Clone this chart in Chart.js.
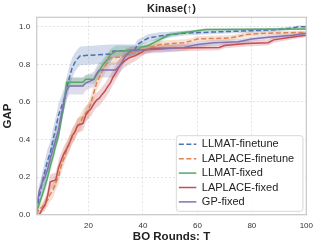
<!DOCTYPE html>
<html><head><meta charset="utf-8">
<script src="https://cdn.jsdelivr.net/npm/chart.js@4.4.1/dist/chart.umd.min.js"></script>
<style>html,body{margin:0;padding:0;background:#fff;overflow:hidden}#wrap{width:319px;height:248px;position:relative}</style>
</head><body><div id="wrap"><canvas id="c" width="319" height="248"></canvas></div>
<script>
const chartTitle = 'Kinase(\u2191)';
const xTitle = 'BO Rounds: T';
const yTitle = 'GAP';
const seriesNames = ['LLMAT-finetune','LAPLACE-finetune','LLMAT-fixed','LAPLACE-fixed','GP-fixed'];
const xTicks = [20,40,60,80,100];
const yTicks = [0,0.2,0.4,0.6,0.8,1.0];

// LLMAT-finetune
const llmatFtT = [1,2,3,4,5,6,7,8,9,10,11,12,13,14,15,16,17,28,29,37,38,40,42,46,50,55,68,83,90,95,97,100];
const llmatFtY = [0.02,0.10,0.17,0.23,0.29,0.33,0.40,0.46,0.53,0.57,0.61,0.67,0.73,0.78,0.81,0.83,0.845,0.855,0.87,0.875,0.905,0.925,0.94,0.95,0.958,0.965,0.973,0.98,0.985,0.993,1.0,1.0];
const llmatFtE = [0.02,0.04,0.05,0.06,0.06,0.06,0.06,0.06,0.06,0.06,0.06,0.06,0.06,0.055,0.05,0.05,0.05,0.05,0.035,0.03,0.025,0.02,0.02,0.02,0.015,0.012,0.01,0.01,0.01,0.008,0.006,0.006];
// LAPLACE-finetune
const laplaceFtT = [1,2,3,4,5,6,7,8,9,10,11,12,13,14,15,16,17,18,19,20,21,22,23,24,25,26,27,28,33,34,40,46,55,58,60,72,78,85,100];
const laplaceFtY = [0.0,0.03,0.04,0.06,0.078,0.11,0.13,0.17,0.2,0.26,0.3,0.345,0.38,0.41,0.44,0.47,0.49,0.52,0.54,0.555,0.60,0.65,0.70,0.73,0.76,0.79,0.81,0.835,0.84,0.86,0.875,0.905,0.915,0.925,0.935,0.94,0.958,0.965,0.97];
const laplaceFtE = [0.01,0.02,0.025,0.03,0.035,0.04,0.04,0.04,0.04,0.04,0.04,0.04,0.04,0.04,0.04,0.04,0.04,0.04,0.04,0.04,0.04,0.04,0.04,0.04,0.04,0.04,0.04,0.04,0.035,0.03,0.025,0.02,0.018,0.015,0.015,0.015,0.012,0.01,0.01];
// LLMAT-fixed
const llmatFxT = [1,2,3,4,5,6,7,8,9,10,11,12,18,19,22,23,24,25,26,27,28,29,30,38,39,42,44,46,48,50,54,58,63,100];
const llmatFxY = [0.02,0.06,0.105,0.15,0.2,0.26,0.31,0.37,0.42,0.50,0.58,0.705,0.705,0.72,0.72,0.745,0.765,0.79,0.81,0.825,0.85,0.86,0.87,0.875,0.89,0.9,0.915,0.93,0.945,0.958,0.967,0.975,0.985,0.988];
const llmatFxE = [0.015,0.02,0.025,0.03,0.03,0.03,0.03,0.03,0.03,0.03,0.03,0.025,0.025,0.025,0.025,0.03,0.03,0.03,0.03,0.03,0.03,0.03,0.03,0.025,0.02,0.02,0.015,0.015,0.012,0.01,0.01,0.008,0.006,0.006];
// LAPLACE-fixed
const laplaceFxT = [1,2,3,4,5,6,8,9,10,11,12,13,14,15,16,17,18,19,20,21,22,23,24,25,26,27,28,29,30,31,32,33,34,35,37,39,41,44,68,70,78,86,88,95,100];
const laplaceFxY = [0.0,0.0,0.03,0.05,0.10,0.175,0.185,0.25,0.29,0.325,0.35,0.38,0.42,0.44,0.475,0.48,0.487,0.53,0.55,0.565,0.59,0.61,0.62,0.64,0.656,0.68,0.70,0.73,0.755,0.78,0.80,0.815,0.825,0.835,0.845,0.86,0.878,0.885,0.89,0.9,0.91,0.915,0.93,0.945,0.955];
const laplaceFxE = [0.005,0.01,0.02,0.03,0.035,0.04,0.04,0.04,0.04,0.04,0.04,0.04,0.04,0.04,0.04,0.04,0.04,0.04,0.04,0.04,0.04,0.04,0.04,0.04,0.04,0.04,0.04,0.04,0.04,0.04,0.035,0.035,0.035,0.035,0.03,0.025,0.02,0.02,0.015,0.015,0.015,0.015,0.015,0.012,0.01];
// GP-fixed
const gpFxT = [1,2,3,4,5,6,7,8,9,10,11,12,13,18,19,22,23,24,30,31,32,33,34,35,36,46,55,60,66,75,80,87,95,100];
const gpFxY = [0.05,0.13,0.17,0.2,0.24,0.3,0.35,0.40,0.45,0.53,0.6,0.66,0.685,0.685,0.70,0.72,0.75,0.77,0.77,0.785,0.805,0.83,0.85,0.865,0.875,0.88,0.89,0.905,0.915,0.92,0.935,0.945,0.955,0.965];
const gpFxE = [0.03,0.04,0.04,0.04,0.04,0.045,0.045,0.045,0.045,0.045,0.045,0.045,0.045,0.045,0.04,0.04,0.04,0.04,0.04,0.035,0.035,0.03,0.03,0.025,0.02,0.02,0.018,0.015,0.015,0.015,0.012,0.012,0.01,0.01];

const FONT = "'Liberation Sans', Arial, Helvetica, sans-serif";
const series = [
  {name: seriesNames[0], T: llmatFtT, Y: llmatFtY, E: llmatFtE, rgb: [76,114,176], dash: [5,2.5]},
  {name: seriesNames[1], T: laplaceFtT, Y: laplaceFtY, E: laplaceFtE, rgb: [221,132,82], dash: [5,2.5]},
  {name: seriesNames[2], T: llmatFxT, Y: llmatFxY, E: llmatFxE, rgb: [85,168,104], dash: []},
  {name: seriesNames[3], T: laplaceFxT, Y: laplaceFxY, E: laplaceFxE, rgb: [196,78,82], dash: []},
  {name: seriesNames[4], T: gpFxT, Y: gpFxY, E: gpFxE, rgb: [129,114,179], dash: []}
];
const rgba = (c, a) => `rgba(${c[0]},${c[1]},${c[2]},${a})`;
const pts = (T, Y, E, s) => T.map((t, i) => ({x: t, y: Y[i] + s * (E ? E[i] : 0)}));

const datasets = [];
series.forEach(s => {
  datasets.push({data: pts(s.T, s.Y, s.E, 1), borderWidth: 0, borderColor: 'rgba(0,0,0,0)', backgroundColor: 'rgba(0,0,0,0)', pointRadius: 0, fill: false, order: 100});
  datasets.push({data: pts(s.T, s.Y, s.E, -1), borderWidth: 0, borderColor: 'rgba(0,0,0,0)', backgroundColor: rgba(s.rgb, 0.25), pointRadius: 0, fill: '-1', order: 100});
});
series.forEach((s, i) => {
  datasets.push({label: s.name, data: pts(s.T, s.Y, null, 0), borderColor: rgba(s.rgb, 1), borderWidth: 1.5, borderDash: s.dash, pointRadius: 0, fill: false, tension: 0, order: 10 - i});
});

const framePlugin = {
  id: 'frameLegend',
  afterDatasetsDraw(chart) {
    const ctx = chart.ctx, a = chart.chartArea;
    ctx.save();
    ctx.setLineDash([]);
    ctx.strokeStyle = '#cccccc';
    ctx.lineWidth = 1.3;
    ctx.strokeRect(a.left, a.top, a.right - a.left, a.bottom - a.top);
    // legend
    const bw = 126.6, bh = 75.6;
    const bx = a.right - 3.4 - bw, by = a.bottom - 3.4 - bh;
    ctx.fillStyle = 'rgba(255,255,255,0.85)';
    ctx.strokeStyle = '#d8d8d8';
    ctx.lineWidth = 1;
    ctx.beginPath();
    if (ctx.roundRect) ctx.roundRect(bx, by, bw, bh, 2.5); else ctx.rect(bx, by, bw, bh);
    ctx.fill(); ctx.stroke();
    ctx.font = `11px ${FONT}`;
    ctx.textBaseline = 'middle';
    ctx.textAlign = 'left';
    series.forEach((s, i) => {
      const yy = by + 8.6 + i * 14.4;
      ctx.strokeStyle = rgba(s.rgb, 1);
      ctx.lineWidth = 1.5;
      ctx.setLineDash(s.dash);
      ctx.beginPath(); ctx.moveTo(bx + 2.5, yy); ctx.lineTo(bx + 20, yy); ctx.stroke();
      ctx.setLineDash([]);
      ctx.fillStyle = '#222222';
      ctx.fillText(s.name, bx + 25.5, yy);
    });
    ctx.restore();
  }
};

const gridOpts = {color: '#dcdcdc', lineWidth: 0.8, drawTicks: false};
new Chart(document.getElementById('c'), {
  type: 'line',
  data: {datasets},
  options: {
    responsive: false, animation: false, devicePixelRatio: 1, events: [],
    layout: {padding: {left: 0, right: 12.3, top: 0, bottom: 0}},
    plugins: {legend: {display: false}, tooltip: {enabled: false}, title: {display: false}},
    scales: {
      x: {
        type: 'linear', min: 1, max: 100,
        afterBuildTicks: s => { s.ticks = xTicks.map(v => ({value: v})); },
        afterFit: s => { s.height = 33.3; },
        ticks: {font: {size: 8, family: FONT}, color: '#333333', padding: 6, callback: v => String(v), maxRotation: 0},
        grid: gridOpts,
        border: {display: false, dash: [2, 2]},
        title: {display: true, text: xTitle, font: {size: 11.5, weight: 'bold', family: FONT}, color: '#222222', padding: {top: 0, bottom: 4.6}}
      },
      x2: {
        type: 'linear', axis: 'x', position: 'top', display: true,
        afterFit: s => { s.height = 17.3; },
        ticks: {display: false},
        grid: {display: false, drawTicks: false},
        border: {display: false},
        title: {display: true, text: chartTitle, font: {size: 11, weight: 'bold', family: FONT}, color: '#222222', padding: {top: 2.2, bottom: 0}}
      },
      y: {
        type: 'linear', min: 0, max: 1.05,
        afterBuildTicks: s => { s.ticks = yTicks.map(v => ({value: v})); },
        afterFit: s => { s.width = 36.7; },
        ticks: {font: {size: 8, family: FONT}, color: '#333333', padding: 6.5, callback: v => Number(v).toFixed(1)},
        grid: gridOpts,
        border: {display: false, dash: [2, 2]},
        title: {display: true, text: yTitle, font: {size: 11.5, weight: 'bold', family: FONT}, color: '#222222', padding: {top: 1.4, bottom: 0}}
      }
    }
  },
  plugins: [framePlugin]
});
</script></body></html>
